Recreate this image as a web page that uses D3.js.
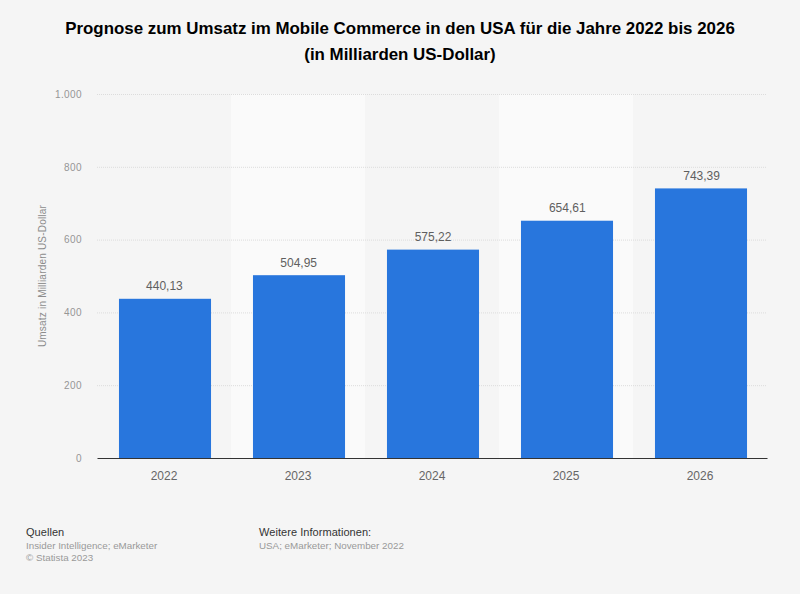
<!DOCTYPE html>
<html>
<head>
<meta charset="utf-8">
<script src="https://cdn.jsdelivr.net/npm/d3@7"></script>
<style>
  html, body { margin: 0; padding: 0; background: #f5f5f5; }
  svg { display: block; font-family: "Liberation Sans", Arial, sans-serif; }
</style>
</head>
<body>
<svg id="chart"></svg>
<script>
const years = ['2022', '2023', '2024', '2025', '2026'];
const revenue = [440.13, 504.95, 575.22, 654.61, 743.39];
const revenueLabels = ['440,13', '504,95', '575,22', '654,61', '743,39'];
const yTicks = [0, 200, 400, 600, 800, 1000];
const yTickLabels = ['0', '200', '400', '600', '800', '1.000'];
const titleLines = [
  'Prognose zum Umsatz im Mobile Commerce in den USA für die Jahre 2022 bis 2026',
  '(in Milliarden US-Dollar)'
];
const sourceLines = ['Insider Intelligence; eMarketer', '© Statista 2023'];
const infoLines = ['USA; eMarketer; November 2022'];

const width = 800;
const height = 594;
const plotLeft = 97, plotRight = 767, plotTop = 94, plotBottom = 458;

const svg = d3.select('#chart')
  .attr('width', width)
  .attr('height', height);

svg.append('rect')
  .attr('width', width)
  .attr('height', height)
  .attr('fill', '#f5f5f5');

const xScale = d3.scaleBand()
  .domain(years)
  .range([plotLeft, plotRight])
  .paddingInner(0.313)
  .paddingOuter(0.1565);

const yScale = d3.scaleLinear()
  .domain([0, 1000])
  .range([plotBottom, plotTop]);

// lighter stripes behind every second year
svg.selectAll('.stripe')
  .data(years.filter((d, i) => i % 2 === 1))
  .join('rect')
    .attr('class', 'stripe')
    .attr('x', d => xScale(d) - xScale.step() * 0.1565)
    .attr('y', plotTop)
    .attr('width', xScale.step())
    .attr('height', plotBottom - plotTop)
    .attr('fill', '#fafafa');

// grid lines
svg.selectAll('.grid')
  .data(yTicks.filter(d => d > 0))
  .join('line')
    .attr('class', 'grid')
    .attr('x1', plotLeft)
    .attr('x2', plotRight)
    .attr('y1', d => yScale(d) + 0.5)
    .attr('y2', d => yScale(d) + 0.5)
    .attr('stroke', '#dcdcdc')
    .attr('stroke-dasharray', '1,1');

const yAxis = d3.axisLeft(yScale)
  .tickValues(yTicks)
  .tickFormat((d, i) => yTickLabels[i])
  .tickSize(0)
  .tickPadding(15);

const yG = svg.append('g')
  .attr('transform', `translate(${plotLeft}, 0)`)
  .call(yAxis);
yG.select('.domain').remove();
yG.selectAll('text')
  .attr('font-family', 'Liberation Sans')
  .attr('font-size', 10)
  .attr('letter-spacing', 0.4)
  .attr('fill', '#969696');

// bars sit one pixel right of and below the band the axis uses
const bars = svg.append('g').attr('transform', 'translate(1, 1)');

bars.selectAll('.bar')
  .data(revenue)
  .join('rect')
    .attr('class', 'bar')
    .attr('x', (d, i) => xScale(years[i]))
    .attr('y', d => yScale(d))
    .attr('width', xScale.bandwidth())
    .attr('height', d => plotBottom - 1 - yScale(d))
    .attr('fill', '#2876dd');

bars.selectAll('.value')
  .data(revenue)
  .join('text')
    .attr('class', 'value')
    .attr('x', (d, i) => xScale(years[i]) + xScale.bandwidth() / 2 + (i - 2) * 0.3)
    .attr('y', d => yScale(d) - 8.5)
    .attr('text-anchor', 'middle')
    .attr('font-size', 12)
    .attr('fill', '#5f5f5f')
    .text((d, i) => revenueLabels[i]);

const xAxis = d3.axisBottom(xScale).tickSize(0).tickPadding(13);
const xG = svg.append('g')
  .attr('transform', `translate(0, ${plotBottom})`)
  .call(xAxis);
xG.select('.domain').attr('stroke', '#333').attr('stroke-width', 1.2);
xG.selectAll('text')
  .attr('font-family', 'Liberation Sans')
  .attr('font-size', 12)
  .attr('fill', '#666');

svg.append('text')
  .attr('transform', `translate(46, 276) rotate(-90)`)
  .attr('text-anchor', 'middle')
  .attr('font-size', 10)
  .attr('letter-spacing', 0.2)
  .attr('fill', '#8c8c8c')
  .text('Umsatz in Milliarden US-Dollar');

svg.selectAll('.title')
  .data(titleLines)
  .join('text')
    .attr('class', 'title')
    .attr('x', 400)
    .attr('y', (d, i) => 34 + i * 26)
    .attr('text-anchor', 'middle')
    .attr('font-size', 16.9)
    .attr('font-weight', 'bold')
    .attr('fill', '#000')
    .text(d => d);

function footer(x, heading, lines) {
  svg.append('text')
    .attr('x', x)
    .attr('y', 536)
    .attr('font-size', 11)
    .attr('letter-spacing', 0.05)
    .attr('fill', '#333')
    .text(heading);
  svg.selectAll(null)
    .data(lines)
    .join('text')
      .attr('x', x)
      .attr('y', (d, i) => 549 + i * 12)
      .attr('font-size', 9.8)
      .attr('fill', '#999')
      .text(d => d);
}
footer(26, 'Quellen', sourceLines);
footer(259, 'Weitere Informationen:', infoLines);
</script>
</body>
</html>
